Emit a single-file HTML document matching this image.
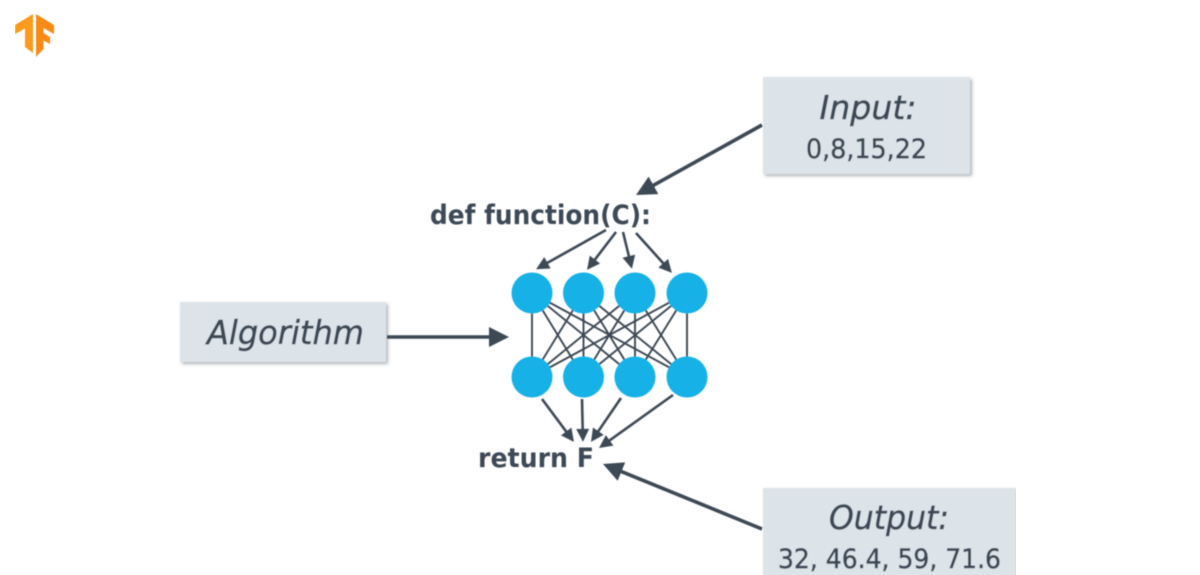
<!DOCTYPE html>
<html><head><meta charset="utf-8"><style>
html,body{margin:0;padding:0;background:#fff;width:1200px;height:575px;overflow:hidden}
svg{display:block}
text{font-family:"DejaVu Sans","Liberation Sans",sans-serif;fill:#3c4856}
.r{stroke:#3c4856;stroke-width:.55}
.b{fill:#dce3e9;filter:url(#s)}
.l{stroke:#3d4855;stroke-width:1.9;fill:none}
.a{stroke:#3d4855;stroke-width:2.6;fill:none}
.h{stroke:#3d4855;stroke-width:3.6;fill:none}
</style></head><body>
<svg width="1200" height="575" viewBox="0 0 1200 575" xmlns="http://www.w3.org/2000/svg">
<defs>
<filter id="s" x="-5%" y="-5%" width="110%" height="115%"><feDropShadow dx="2" dy="2" stdDeviation="1.5" flood-color="#8d949b" flood-opacity=".7"/></filter>
<filter id="blur" x="0" y="0" width="100%" height="100%"><feGaussianBlur stdDeviation="0.45"/></filter>
<marker id="m" viewBox="0 0 10 10" refX="7" refY="5" markerWidth="14" markerHeight="13" markerUnits="userSpaceOnUse" orient="auto"><path d="M0 0L10 5L0 10Z" fill="#3d4855"/></marker>
<marker id="M" viewBox="0 0 10 10" refX="7.500" refY="5" markerWidth="20" markerHeight="20" markerUnits="userSpaceOnUse" orient="auto"><path d="M0 0L10 5L0 10Z" fill="#3d4855"/></marker>
</defs>
<rect width="1200" height="575" fill="#fff"/>
<g filter="url(#blur)">
<!-- logo -->
<path d="M33 14L15 25V34L25 28.500V47L33 53Z" fill="#fb9a1f"/>
<path d="M36 14L54 25V34L43.500 28V33L50 37V44L43.500 40.500V49L36 57Z" fill="#f98a14"/>
<!-- boxes -->
<rect class="b" x="763" y="77" width="207" height="97"/>
<rect class="b" x="180" y="302" width="206" height="60"/>
<rect class="b" x="763" y="488" width="253" height="95"/>
<!-- box text -->
<text class="r" x="868" y="119" font-size="33" font-style="italic" text-anchor="middle" textLength="97" lengthAdjust="spacingAndGlyphs">Input:</text>
<text class="r" x="866.500" y="158" font-size="27" text-anchor="middle" textLength="121" lengthAdjust="spacingAndGlyphs">0,8,15,22</text>
<text class="r" x="285.500" y="344" font-size="33" font-style="italic" text-anchor="middle" textLength="157" lengthAdjust="spacingAndGlyphs">Algorithm</text>
<text class="r" x="889" y="529" font-size="33" font-style="italic" text-anchor="middle" textLength="120" lengthAdjust="spacingAndGlyphs">Output:</text>
<text class="r" x="889.500" y="568" font-size="27" text-anchor="middle" textLength="223" lengthAdjust="spacingAndGlyphs">32, 46.4, 59, 71.6</text>
<text x="430" y="224" font-size="27" font-weight="700" textLength="221" lengthAdjust="spacingAndGlyphs">def function(C):</text>
<text x="478" y="467" font-size="27" font-weight="700" textLength="116" lengthAdjust="spacingAndGlyphs">return F</text>
<!-- network connections -->
<g class="l">
<path d="M532 293L532 377M532 293L583.500 377M532 293L635 377M532 293L687 377"/>
<path d="M583.500 293L532 377M583.500 293L583.500 377M583.500 293L635 377M583.500 293L687 377"/>
<path d="M635 293L532 377M635 293L583.500 377M635 293L635 377M635 293L687 377"/>
<path d="M687 293L532 377M687 293L583.500 377M687 293L635 377M687 293L687 377"/>
</g>
<g fill="#12b1e6">
<circle cx="532" cy="293" r="20.500"/><circle cx="583.500" cy="293" r="20.500"/><circle cx="635" cy="293" r="20.500"/><circle cx="687" cy="293" r="20.500"/>
<circle cx="532" cy="377" r="20.500"/><circle cx="583.500" cy="377" r="20.500"/><circle cx="635" cy="377" r="20.500"/><circle cx="687" cy="377" r="20.500"/>
</g>
<!-- small arrows -->
<g class="a">
<path marker-end="url(#m)" d="M606 230L539.500 267.300"/>
<path marker-end="url(#m)" d="M616 232L589.400 266.800"/>
<path marker-end="url(#m)" d="M623 232L631 265"/>
<path marker-end="url(#m)" d="M636 233L669.300 270"/>
<path marker-end="url(#m)" d="M542 399L571.600 438.800"/>
<path marker-end="url(#m)" d="M582 399L582.900 438"/>
<path marker-end="url(#m)" d="M621 398L593.200 438.700"/>
<path marker-end="url(#m)" d="M673 395L602.200 445.700"/>
</g>
<!-- large arrows -->
<g class="h">
<path marker-end="url(#M)" d="M762 125L640.400 192.600"/>
<path marker-end="url(#M)" d="M387 337L504 337"/>
<path marker-end="url(#M)" d="M762 529L607.600 465.900"/>
</g>
</g>
</svg>
</body></html>
